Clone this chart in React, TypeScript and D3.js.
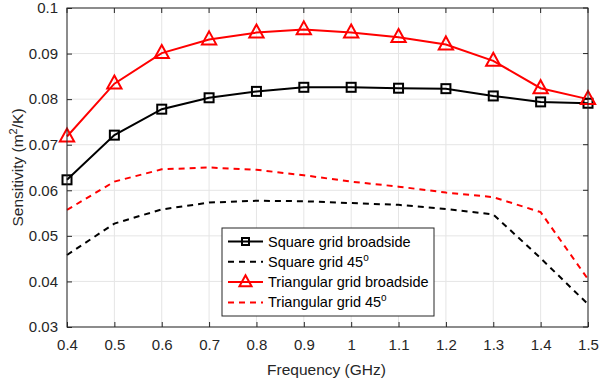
import * as d3 from "d3";
import { useRef, useEffect } from "react";

const freqs = [0.4, 0.5, 0.6, 0.7, 0.8, 0.9, 1.0, 1.1, 1.2, 1.3, 1.4, 1.5];
const squareBroadside = [0.0623, 0.0721, 0.0778, 0.0803, 0.0817, 0.0826, 0.0826, 0.0824, 0.0823, 0.0807, 0.0794, 0.0791];
const square45 = [0.0458, 0.0527, 0.0558, 0.0573, 0.0577, 0.0576, 0.0572, 0.0568, 0.0559, 0.0547, 0.0451, 0.035];
const triBroadside = [0.0718, 0.0834, 0.0901, 0.0931, 0.0946, 0.0953, 0.0946, 0.0936, 0.092, 0.0884, 0.0824, 0.08];
const tri45 = [0.0557, 0.0619, 0.0646, 0.065, 0.0645, 0.0633, 0.0619, 0.0608, 0.0595, 0.0585, 0.0552, 0.0405];
const xTicks = [0.4, 0.5, 0.6, 0.7, 0.8, 0.9, 1, 1.1, 1.2, 1.3, 1.4, 1.5];
const yTicks = [0.03, 0.04, 0.05, 0.06, 0.07, 0.08, 0.09, 0.1];

const series = [
  { name: "Square grid broadside", values: squareBroadside, color: "#000000", dash: null, marker: "square" },
  { name: "Square grid 45", sup: "o", values: square45, color: "#000000", dash: "6,5", marker: null },
  { name: "Triangular grid broadside", values: triBroadside, color: "#ff0000", dash: null, marker: "triangle" },
  { name: "Triangular grid 45", sup: "o", values: tri45, color: "#ff0000", dash: "6,5", marker: null },
];

const width = 599;
const height = 387;
const marginLeft = 67;
const marginRight = 11;
const marginTop = 8;
const marginBottom = 60;
const font = "'Liberation Sans', Arial, Helvetica, sans-serif";
const axisColor = "#262626";

export default function App() {
  const gx = useRef<SVGGElement>(null);
  const gy = useRef<SVGGElement>(null);

  const x = d3.scaleLinear().domain([0.4, 1.5]).range([marginLeft, width - marginRight]);
  const y = d3.scaleLinear().domain([0.03, 0.1]).range([height - marginBottom, marginTop]);

  useEffect(() => {
    const ax = d3.select(gx.current!);
    ax.call(d3.axisBottom(x).tickValues(xTicks).tickSize(-5).tickSizeOuter(0).tickPadding(12).tickFormat(d3.format("")));
    ax.select(".domain").remove();
    ax.selectAll("text").attr("font-size", 15).attr("font-family", font).attr("fill", axisColor);
    ax.selectAll("line").attr("stroke", axisColor);
    const ay = d3.select(gy.current!);
    ay.call(d3.axisLeft(y).tickValues(yTicks).tickSize(-5).tickSizeOuter(0).tickPadding(9).tickFormat(d3.format("")));
    ay.select(".domain").remove();
    ay.selectAll("text").attr("font-size", 15).attr("font-family", font).attr("fill", axisColor);
    ay.selectAll("line").attr("stroke", axisColor);
  }, []);

  const line = (vals: number[]) =>
    d3.line<number>().x((_, i) => x(freqs[i])).y((d) => y(d))(vals) || "";

  const tri = (cx: number, cy: number, s: number) =>
    `M${cx},${cy - s * 0.62}L${cx + s * 0.55},${cy + s * 0.38}L${cx - s * 0.55},${cy + s * 0.38}Z`;

  const x0 = marginLeft, x1 = width - marginRight, y0 = marginTop, y1 = height - marginBottom;
  const legX = 222, legY = 228, legW = 212, legH = 88;

  return (
    <svg width={width} height={height} style={{ position: "absolute", left: 0, top: 0, background: "#fff" }}>
      <rect x={0} y={0} width={width} height={height} fill="#fff" />
      {xTicks.map((t) => (
        <line key={"gx" + t} x1={x(t)} x2={x(t)} y1={y0} y2={y1} stroke="#e5e5e5" strokeWidth={1} />
      ))}
      {yTicks.map((t) => (
        <line key={"gy" + t} x1={x0} x2={x1} y1={y(t)} y2={y(t)} stroke="#e5e5e5" strokeWidth={1} />
      ))}
      {/* top & right inward ticks */}
      {xTicks.map((t) => (
        <line key={"tx" + t} x1={x(t)} x2={x(t)} y1={y0} y2={y0 + 5} stroke={axisColor} />
      ))}
      {yTicks.map((t) => (
        <line key={"ty" + t} x1={x1} x2={x1 - 5} y1={y(t)} y2={y(t)} stroke={axisColor} />
      ))}
      {series.map((s) => (
        <path key={s.name} d={line(s.values)} fill="none" stroke={s.color} strokeWidth={2}
          strokeDasharray={s.dash || undefined} />
      ))}
      {series.map((s) =>
        s.marker === "square"
          ? s.values.map((v, i) => (
              <rect key={s.name + i} x={x(freqs[i]) - 4.5} y={y(v) - 4.5} width={9} height={9}
                fill="none" stroke={s.color} strokeWidth={2} />
            ))
          : s.marker === "triangle"
          ? s.values.map((v, i) => (
              <path key={s.name + i} d={tri(x(freqs[i]), y(v), 13)} fill="none" stroke={s.color} strokeWidth={2} />
            ))
          : null
      )}
      <rect x={x0} y={y0} width={x1 - x0} height={y1 - y0} fill="none" stroke={axisColor} strokeWidth={1} />
      <g ref={gx} transform={`translate(0,${y1})`} />
      <g ref={gy} transform={`translate(${x0},0)`} />
      <text x={(x0 + x1) / 2 - 1} y={375} textAnchor="middle" fontSize={15.5} fontFamily={font} fill={axisColor}>
        Frequency (GHz)
      </text>
      <text transform={`translate(23,${(y0 + y1) / 2}) rotate(-90)`} textAnchor="middle" fontSize={15.5}
        fontFamily={font} fill={axisColor}>
        Sensitivity (m<tspan dy={-6} fontSize={11}>2</tspan><tspan dy={6}>/K)</tspan>
      </text>
      <g>
        <rect x={legX} y={legY} width={legW} height={legH} fill="#fff" stroke={axisColor} strokeWidth={1} />
        {series.map((s, i) => {
          const ry = legY + 13.5 + i * 20.3;
          return (
            <g key={"leg" + s.name}>
              <line x1={legX + 6} x2={legX + 41} y1={ry} y2={ry} stroke={s.color} strokeWidth={2}
                strokeDasharray={s.dash || undefined} />
              {s.marker === "square" && (
                <rect x={legX + 23.5 - 3.5} y={ry - 3.5} width={7} height={7} fill="none" stroke={s.color} strokeWidth={2} />
              )}
              {s.marker === "triangle" && (
                <path d={tri(legX + 23.5, ry, 11)} fill="none" stroke={s.color} strokeWidth={2} />
              )}
              <text x={legX + 46} y={ry + 5} fontSize={14.5} fontFamily={font} fill="#000">
                {s.name}
                {s.sup && <tspan dy={-6} fontSize={10}>{s.sup}</tspan>}
              </text>
            </g>
          );
        })}
      </g>
    </svg>
  );
}
